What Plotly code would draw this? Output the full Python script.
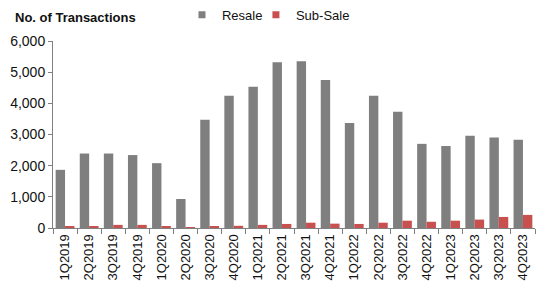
import plotly.graph_objects as go

quarters = ["1Q2019", "2Q2019", "3Q2019", "4Q2019", "1Q2020", "2Q2020", "3Q2020", "4Q2020",
            "1Q2021", "2Q2021", "3Q2021", "4Q2021", "1Q2022", "2Q2022", "3Q2022", "4Q2022",
            "1Q2023", "2Q2023", "3Q2023", "4Q2023"]
resale = [1866, 2390, 2390, 2340, 2080, 930, 3470, 4240,
          4530, 5320, 5350, 4750, 3370, 4240, 3730, 2700,
          2630, 2960, 2900, 2830]
sub_sale = [40, 40, 100, 100, 40, 10, 50, 70,
            100, 130, 170, 140, 130, 170, 235, 200,
            235, 270, 355, 420]
y_ticks = [0, 1000, 2000, 3000, 4000, 5000, 6000]
series_names = ["Resale", "Sub-Sale"]
series_colors = ["#7f7f7f", "#c8504f"]

font = "Liberation Sans, Arial, sans-serif"

fig = go.Figure()
for name, vals, col in zip(series_names, [resale, sub_sale], series_colors):
    fig.add_trace(go.Bar(x=quarters, y=vals, name=name, marker_color=col,
                         marker_line_width=0, showlegend=False, legendgroup=name))
# legend entries with small square symbols, each in its own legend box
for name, col, lg in zip(series_names, series_colors, ["legend", "legend2"]):
    fig.add_trace(go.Scatter(x=[None], y=[None], mode="markers", name=name,
                             legendgroup=name, legend=lg,
                             marker=dict(symbol="square", size=7, color=col)))

legend_common = dict(orientation="h", xanchor="left", y=1.14, yanchor="middle",
                     font=dict(size=13, color="#111111", family=font),
                     bgcolor="rgba(0,0,0,0)", itemwidth=30)

fig.update_layout(
    width=550, height=296,
    margin=dict(l=53, r=15, t=41, b=68, autoexpand=False),
    paper_bgcolor="white", plot_bgcolor="white",
    barmode="group", bargap=0.22, bargroupgap=0,
    font=dict(family=font, size=13, color="#111111"),
    showlegend=True,
    legend=dict(x=0.2676, **legend_common),
    legend2=dict(x=0.421, **legend_common),
    annotations=[dict(text="<b>No. of Transactions</b>", xref="paper", yref="paper",
                      x=-0.083, y=1.128, xanchor="left", yanchor="middle", showarrow=False,
                      font=dict(size=13, family=font, color="#111111"))],
)
fig.update_xaxes(
    type="category", tickangle=-90, tickson="boundaries",
    ticks="outside", ticklen=5, tickcolor="#808080",
    showline=True, linecolor="#808080", linewidth=1,
    showgrid=False, tickfont=dict(size=13, family=font, color="#111111"),
)
fig.update_yaxes(
    range=[0, 6000], tickvals=y_ticks, tickformat=",",
    ticks="outside", ticklen=4, tickcolor="#808080",
    showline=True, linecolor="#808080", linewidth=1,
    showgrid=False, zeroline=False,
    tickfont=dict(size=14, family=font, color="#111111"),
)

fig.write_html("out.html")
